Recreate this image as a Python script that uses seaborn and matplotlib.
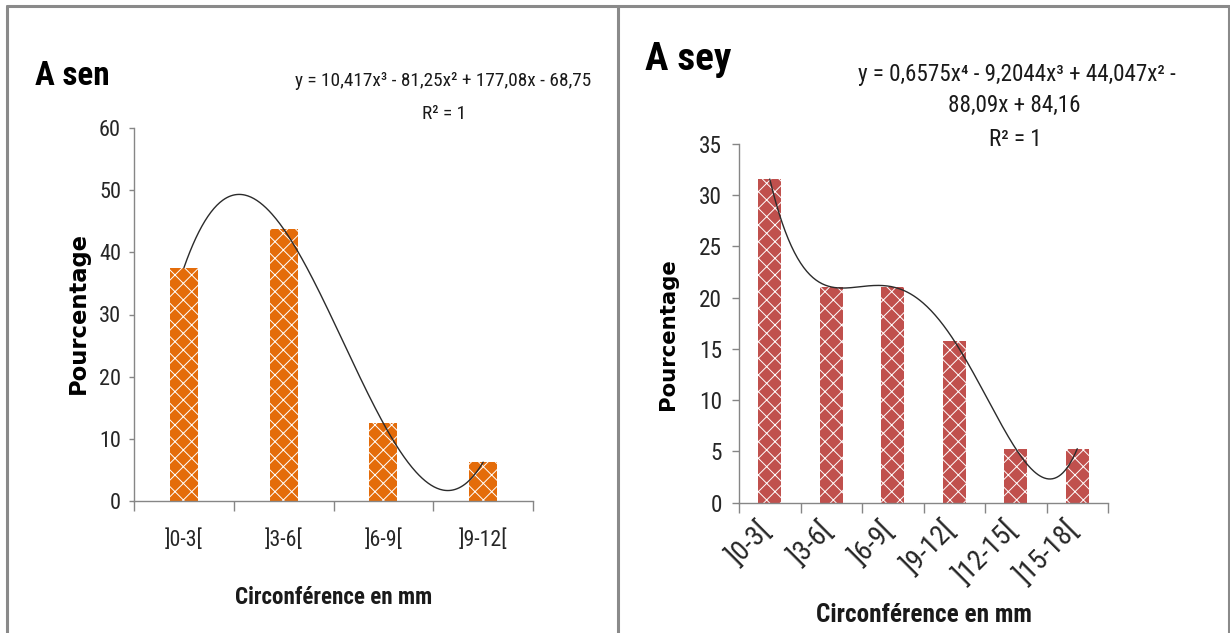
import numpy as np
import matplotlib
matplotlib.use("Agg")
import matplotlib.pyplot as plt
import matplotlib.transforms as mtransforms
from matplotlib import font_manager as fm
from matplotlib.lines import Line2D
import seaborn as sns

# ---------------- data ----------------
sen_categories = ["]0-3[", "]3-6[", "]6-9[", "]9-12["]
sen_values = [37.5, 43.75, 12.5, 6.25]
sen_title = "A sen"
sen_equation = ["y = 10,417x³ - 81,25x² + 177,08x - 68,75", "R² = 1"]

sey_categories = ["]0-3[", "]3-6[", "]6-9[", "]9-12[", "]12-15[", "]15-18["]
sey_values = [31.58, 21.05, 21.05, 15.79, 5.26, 5.26]
sey_title = "A sey"
sey_equation = ["y = 0,6575x⁴ - 9,2044x³ + 44,047x² -", "88,09x + 84,16", "R² = 1"]

x_label = "Circonférence en mm"
y_label = "Pourcentage"

# ---------------- fonts ----------------
sns.set_theme(style="white")
avail = {f.name for f in fm.fontManager.ttflist}


def _is_cond(f):
    s = f.stretch
    if isinstance(s, str):
        return "condensed" in s
    return s < 500


cond_names = {f.name for f in fm.fontManager.ttflist if _is_cond(f)}
FAM, STRETCH = "Liberation Sans", "normal"
for c in ["Liberation Sans Narrow", "Arial Narrow", "Roboto Condensed", "Noto Sans Condensed", "Open Sans Condensed"]:
    if c in avail:
        FAM, STRETCH = c, "normal"
        break
else:
    for c in ["Noto Sans", "Open Sans", "Roboto", "DejaVu Sans"]:
        if c in cond_names:
            FAM, STRETCH = c, "condensed"
            break

plt.rcParams["font.family"] = [FAM, "DejaVu Sans"]
plt.rcParams["font.stretch"] = STRETCH
plt.rcParams["hatch.linewidth"] = 0.7
plt.rcParams["hatch.color"] = "white"

W, H = 1230, 633
fig = plt.figure(figsize=(W / 100, H / 100), dpi=100)
fig.patch.set_facecolor("white")
renderer = fig.canvas.get_renderer()

K = 1.15  # text enlargement relative to the (narrow) reference widths


def fx(x):
    return x / W


def fy(y):
    return 1 - y / H


def px_pt(p):
    return p * 72 / 100


def fit(t, target, vertical=False):
    for _ in range(3):
        bb = t.get_window_extent(renderer)
        size = bb.height if vertical else bb.width
        if size > 0:
            t.set_fontsize(t.get_fontsize() * target / size)


GRAY = "#868686"

# panel frames
for (x0, y0, x1, y1) in [(6.5, 5.5, 1229, 5.5), (6.5, 5.5, 6.5, 633), (618, 5.5, 618, 633), (1229, 5.5, 1229, 633)]:
    fig.add_artist(Line2D([fx(x0), fx(x1)], [fy(y0), fy(y1)], color="#8a8a8a", lw=2.2,
                          transform=fig.transFigure))


def draw_panel(rect, cats, vals, color, width, ymax, ystep, deg, rot, xlab_pad, ytick_len, ytick_pad,
               ylab_w, xlab_w):
    ax = fig.add_axes(rect)
    sns.barplot(x=cats, y=vals, color=color, width=width, saturation=1, ax=ax)
    for p in ax.patches:
        p.set_hatch("xx")
        p.set_edgecolor("white")
        p.set_linewidth(0)
    # polynomial trend line fitted to the data
    xs = np.arange(len(vals))
    coef = np.polyfit(xs + 1, vals, deg)
    xd = np.linspace(0, len(vals) - 1, 300)
    ax.plot(xd, np.polyval(coef, xd + 1), color="#2b2b2b", lw=1.0)

    ax.set_xlim(-0.5, len(cats) - 0.5)
    ax.set_ylim(0, ymax)
    yt = np.arange(0, ymax + 0.1, ystep)
    ax.set_yticks(yt)
    ax.set_yticklabels([f"{int(v)}" for v in yt])
    ax.set_xlabel("")
    ax.set_ylabel("")
    for s in ["top", "right"]:
        ax.spines[s].set_visible(False)
    for s in ["left", "bottom"]:
        ax.spines[s].set_color(GRAY)
        ax.spines[s].set_linewidth(1.0)
    ax.set_xticks(np.arange(-0.5, len(cats), 1.0), minor=True)
    ax.tick_params(axis="x", which="minor", length=px_pt(10), width=1.0, color=GRAY, direction="out", bottom=True)
    ax.tick_params(axis="x", which="major", length=0, pad=xlab_pad, labelsize=15, colors="#262626")
    ax.tick_params(axis="y", which="major", length=ytick_len, width=1.0, color=GRAY, direction="out",
                   left=True, pad=ytick_pad, labelsize=15, labelcolor="#262626")
    fig.canvas.draw()
    top = ax.get_yticklabels()[-1]
    fit(top, ylab_w * K)
    fs = top.get_fontsize()
    for lab in ax.get_yticklabels():
        lab.set_fontsize(fs)
    first = ax.get_xticklabels()[0]
    if rot:
        xfs = fs * 1.2
    else:
        fit(first, xlab_w * K)
        xfs = first.get_fontsize()
    for lab in ax.get_xticklabels():
        lab.set_fontsize(xfs)
        if rot:
            lab.set_rotation(45)
            lab.set_ha("right")
            lab.set_va("top")
            lab.set_transform(lab.get_transform() + mtransforms.ScaledTranslation(7 / 100, 0, fig.dpi_scale_trans))
    ax.set_facecolor("white")
    return ax


# left panel
draw_panel([fx(134), fy(501), (533 - 134) / W, (501 - 128) / H], sen_categories, sen_values,
           "#E46C0A", 0.28, 60, 10, 3, False, px_pt(28), px_pt(5), px_pt(8), 19, 33)
# right panel
draw_panel([fx(739), fy(502.6), (1108 - 739) / W, (502.6 - 144) / H], sey_categories, sey_values,
           "#C0504D", 0.37, 35, 5, 4, True, px_pt(14), px_pt(7), px_pt(10), 20, 33)

TXT = "#1a1a1a"
# titles
t = fig.text(fx(35), fy(85), sen_title, fontsize=26, fontweight="bold", ha="left", va="baseline", color="black")
fit(t, 67 * 1.12)
t = fig.text(fx(645), fy(70), sey_title, fontsize=26, fontweight="bold", ha="left", va="baseline", color="black")
fit(t, 77 * 1.12)

# equations
t = fig.text(fx(443.5), fy(80.7), sen_equation[0], fontsize=14, ha="center", va="center", color=TXT)
fit(t, 280 * 1.06)
eq_fs = t.get_fontsize()
fig.text(fx(443.7), fy(114), sen_equation[1], fontsize=eq_fs, ha="center", va="center", color=TXT)
t = fig.text(fx(1016.7), fy(74.7), sey_equation[0], fontsize=14, ha="center", va="center", color=TXT)
fit(t, 299 * 1.06)
eq2_fs = t.get_fontsize()
fig.text(fx(1014.7), fy(105.8), sey_equation[1], fontsize=eq2_fs, ha="center", va="center", color=TXT)
fig.text(fx(1015), fy(139.3), sey_equation[2], fontsize=eq2_fs, ha="center", va="center", color=TXT)

# axis labels
t = fig.text(fx(334), fy(597), x_label, fontsize=15, fontweight="bold", ha="center", va="center", color=TXT)
fit(t, 172 * K)
t = fig.text(fx(923.8), fy(615), x_label, fontsize=15, fontweight="bold", ha="center", va="center", color=TXT)
fit(t, 200 * 1.08)
t = fig.text(fx(78), fy(313), y_label, fontsize=14, fontweight="bold", rotation=90, ha="center", va="center",
             color="black", family=["DejaVu Sans"], fontstretch="normal")
fit(t, 162, vertical=True)
t = fig.text(fx(668.5), fy(334), y_label, fontsize=14, fontweight="bold", rotation=90, ha="center", va="center",
             color="black", family=["DejaVu Sans"], fontstretch="normal")
fit(t, 152, vertical=True)

fig.savefig("out.png", dpi=100, facecolor="white")
